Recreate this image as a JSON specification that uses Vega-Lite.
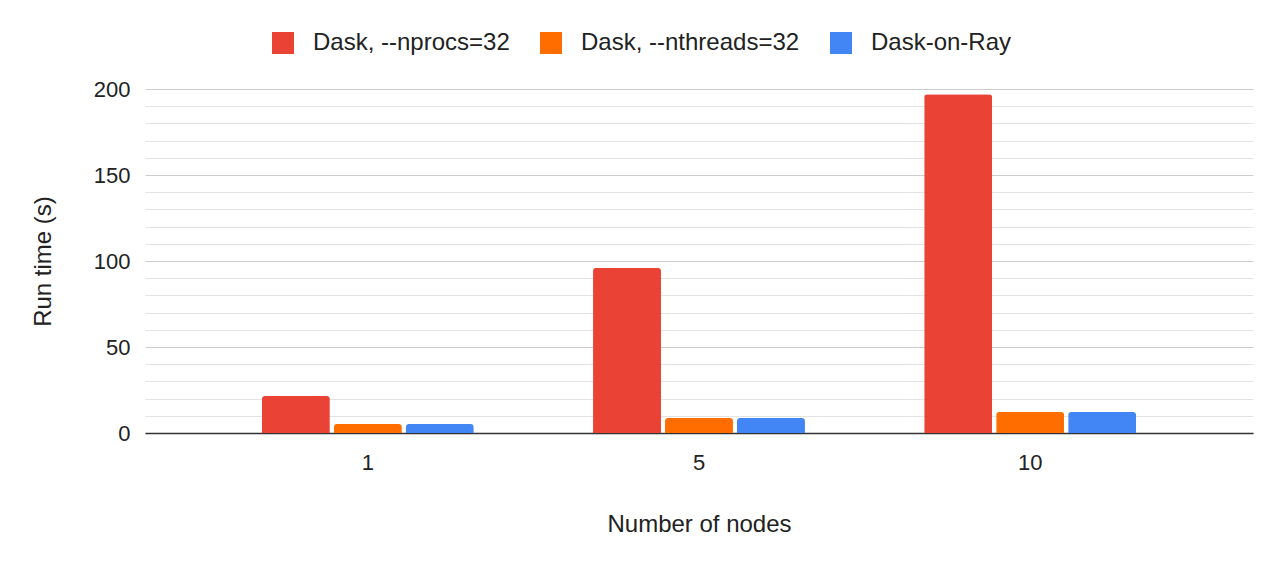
{
  "$schema": "https://vega.github.io/schema/vega-lite/v6.json",
  "autosize": {"type": "none"},
  "width": 1108,
  "height": 344,
  "padding": {"left": 145, "top": 89, "right": 29, "bottom": 133},
  "background": "white",
  "config": {
    "view": {"stroke": null},
    "font": "Liberation Sans",
    "axis": {"labelFont": "Liberation Sans", "titleFont": "Liberation Sans", "labelColor": "#222", "titleColor": "#222"},
    "legend": {"labelFont": "Liberation Sans"}
  },
  "data": {
    "values": [
      {"nodes": "1", "series": "Dask, --nprocs=32", "time": 21.5},
      {"nodes": "1", "series": "Dask, --nthreads=32", "time": 5.2},
      {"nodes": "1", "series": "Dask-on-Ray", "time": 5.2},
      {"nodes": "5", "series": "Dask, --nprocs=32", "time": 96},
      {"nodes": "5", "series": "Dask, --nthreads=32", "time": 8.7},
      {"nodes": "5", "series": "Dask-on-Ray", "time": 8.7},
      {"nodes": "10", "series": "Dask, --nprocs=32", "time": 197},
      {"nodes": "10", "series": "Dask, --nthreads=32", "time": 12.2},
      {"nodes": "10", "series": "Dask-on-Ray", "time": 12.2}
    ]
  },
  "mark": {"type": "bar", "cornerRadiusTopLeft": 3, "cornerRadiusTopRight": 3},
  "encoding": {
    "x": {
      "field": "nodes", "type": "nominal", "sort": ["1", "5", "10"],
      "scale": {"paddingInner": 0.36, "paddingOuter": 0.353},
      "axis": {
        "title": "Number of nodes", "labelAngle": 0, "labelFontSize": 22, "titleFontSize": 24,
        "titleFontWeight": "normal", "ticks": false, "labelPadding": 19, "titlePadding": 39,
        "domainColor": "#333", "domainWidth": 1.5, "grid": false
      }
    },
    "xOffset": {
      "field": "series", "type": "nominal",
      "sort": ["Dask, --nprocs=32", "Dask, --nthreads=32", "Dask-on-Ray"],
      "scale": {"paddingInner": 0.056, "paddingOuter": 0}
    },
    "y": {
      "field": "time", "type": "quantitative",
      "scale": {"domain": [0, 200], "nice": false},
      "axis": {
        "title": "Run time (s)", "titleFontSize": 24, "titleFontWeight": "normal", "titlePadding": 38,
        "labelFontSize": 22, "labelPadding": 15, "ticks": false, "domain": false,
        "values": [0,10,20,30,40,50,60,70,80,90,100,110,120,130,140,150,160,170,180,190,200],
        "labelExpr": "datum.value % 50 === 0 ? datum.label : ''",
        "gridColor": {"condition": {"test": "datum.value % 50 === 0", "value": "#cccccc"}, "value": "#e3e3e3"},
        "gridWidth": 1
      }
    },
    "color": {
      "field": "series", "type": "nominal",
      "sort": ["Dask, --nprocs=32", "Dask, --nthreads=32", "Dask-on-Ray"],
      "scale": {"domain": ["Dask, --nprocs=32", "Dask, --nthreads=32", "Dask-on-Ray"], "range": ["#ea4335", "#ff6d01", "#4285f4"]},
      "legend": {
        "title": null, "orient": "none", "legendX": 126, "legendY": -58, "direction": "horizontal",
        "symbolType": "square", "symbolSize": 484, "symbolStrokeWidth": 0, "symbolOpacity": 1,
        "labelFontSize": 24, "labelColor": "#222", "labelOffset": 18, "columnPadding": 29, "labelLimit": 500
      }
    }
  }
}
